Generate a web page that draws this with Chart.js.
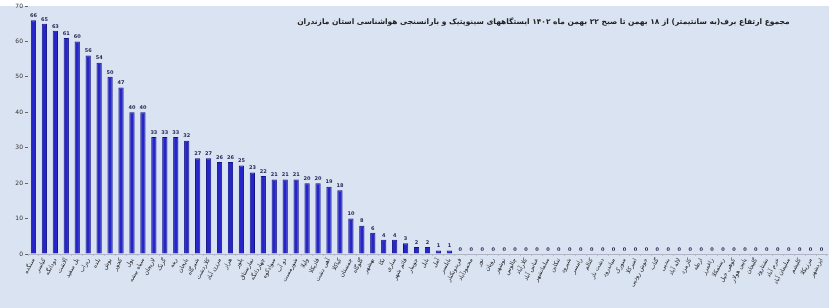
<!DOCTYPE html>
<html>
<head>
<meta charset="utf-8">
<script src="https://cdn.jsdelivr.net/npm/chart.js@4.4.1/dist/chart.umd.min.js"></script>
<style>
  html, body { margin: 0; padding: 0; background: #fff; }
  #wrap { width: 829px; height: 308px; }
</style>
</head>
<body>
<div id="wrap"><canvas id="c" width="829" height="308"></canvas></div>
<script>
// snow depth (cm), Mazandaran stations, 18-22 Bahman 1402
const titleText = 'مجموع ارتفاع برف(به سانتیمتر) از ۱۸ بهمن تا صبح ۲۲ بهمن ماه ۱۴۰۲ ایستگاههای سینوپتیک و بارانسنجی هواشناسی استان مازندران';

const stations = [
  'سنگده','کیاسر','دودانگه','آلاشت','پل سفید','زیراب','بلده','یوش','کجور','پول',
  'سیاه بیشه','لاریجان','گزنک','رینه','بایجان','شیرگاه','کلاردشت','مرزن آباد','هراز','پلور',
  'نمارستاق','چهاردانگه','سوادکوه','دو آب','شورمست','ولیلا','قادیکلا','آهی دشت','کیاکلا','چمستان',
  'گلوگاه','بهشهر','نکا','ساری','قائم شهر','جویبار','بابل','آمل','بابلسر','فریدونکنار',
  'محمودآباد','نور','رویان','نوشهر','چالوس','کلارآباد','عباس آباد','سلمانشهر','تنکابن','شیرود',
  'رامسر','کتالم','دشت ناز','میاندرود','سورک','امیرکلا','خوش رودپی','گتاب','بندپی','لاله آباد',
  'کارمزد','ارطه','زاغمرز','رستمکلا','کوهی خیل','پایین هولار','گلیجان','نشتارود','خرم آباد','سلیمان آباد',
  'کلیشم','مرزیکلا','ایزدشهر'
];

const snowDepth = [
  66,65,63,61,60,56,54,50,47,40,
  40,33,33,33,32,27,27,26,26,25,
  23,22,21,21,21,20,20,19,18,10,
  8,6,4,4,3,2,2,1,1,0,
  0,0,0,0,0,0,0,0,0,0,
  0,0,0,0,0,0,0,0,0,0,
  0,0,0,0,0,0,0,0,0,0,
  0,0,0
];

const yTicks = [0,10,20,30,40,50,60,70];

const FONT = "'DejaVu Sans', sans-serif";

const bgPlugin = {
  id: 'bg',
  beforeDraw(chart){
    const ctx = chart.ctx;
    ctx.save();
    ctx.fillStyle = '#dae3f2';
    ctx.fillRect(0,0,chart.width,chart.height);
    ctx.fillStyle = '#ffffff';
    ctx.fillRect(0,0,chart.width,6);
    ctx.restore();
  }
};

const valuePlugin = {
  id: 'values',
  afterDatasetsDraw(chart){
    const ctx = chart.ctx;
    const meta = chart.getDatasetMeta(0);
    ctx.save();
    ctx.font = 'bold 5px ' + FONT;
    ctx.fillStyle = '#2a2a55';
    ctx.textAlign = 'center';
    ctx.textBaseline = 'bottom';
    meta.data.forEach((bar, i) => {
      ctx.fillText(String(snowDepth[i]), bar.x, bar.y - 2);
    });
    ctx.restore();
  }
};

const titlePlugin = {
  id: 'rtlTitle',
  afterDraw(chart){
    const a = chart.chartArea;
    const ctx = chart.ctx;
    ctx.save();
    ctx.font = 'bold 7.5px ' + FONT;
    ctx.fillStyle = '#222';
    ctx.textAlign = 'center';
    ctx.textBaseline = 'middle';
    ctx.direction = 'rtl';
    ctx.fillText(titleText, a.left + (a.right - a.left) * 0.645, 22);
    ctx.restore();
  }
};

new Chart(document.getElementById('c'), {
  type: 'bar',
  data: {
    labels: stations,
    datasets: [{
      data: snowDepth,
      backgroundColor: '#2626c8',
      borderColor: '#12128a',
      borderWidth: 1,
      barPercentage: 0.48,
      categoryPercentage: 1.0
    }]
  },
  options: {
    responsive: false,
    devicePixelRatio: 1,
    animation: false,
    layout: { padding: { top: 6, right: 2, left: 0, bottom: 0 } },
    plugins: { legend: { display: false }, tooltip: { enabled: false }, title: { display: false } },
    scales: {
      x: {
        grid: { drawOnChartArea: false, drawTicks: true, tickLength: 2, color: '#b8bccc' },
        border: { display: true, color: '#b0b4c4' },
        ticks: {
          autoSkip: false, minRotation: 62, maxRotation: 62, padding: 1,
          font: { family: FONT, size: 6 }, color: '#222'
        },
        afterFit(scale){ scale.height = 54; }
      },
      y: {
        min: 0, max: 70,
        afterBuildTicks(scale){ scale.ticks = yTicks.map(v => ({ value: v })); },
        grid: { drawOnChartArea: false, drawTicks: true, tickLength: 3, color: '#666' },
        border: { display: false },
        ticks: { font: { family: FONT, size: 6 }, color: '#333', padding: 2 },
        afterFit(scale){ scale.width = 28; }
      }
    }
  },
  plugins: [bgPlugin, valuePlugin, titlePlugin]
});
</script>
</body>
</html>
